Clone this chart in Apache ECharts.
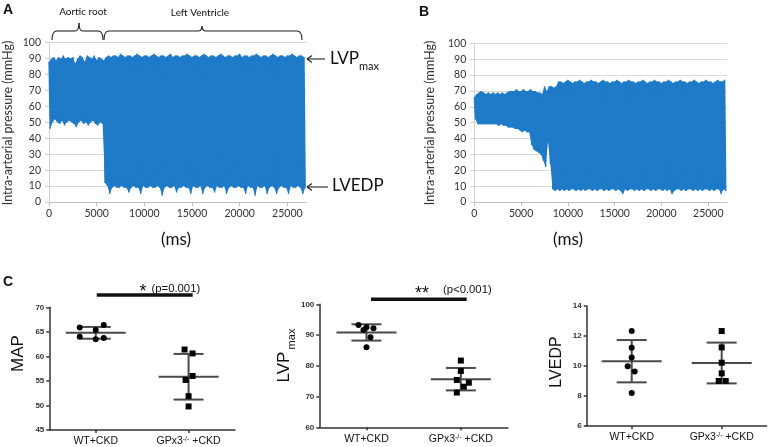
<!DOCTYPE html>
<html><head><meta charset="utf-8">
<script src="https://cdn.jsdelivr.net/npm/echarts@6/dist/echarts.min.js"></script>
<style>html,body{margin:0;padding:0;background:#fff}#c{width:768px;height:447px}</style>
</head><body><div id="c"></div>
<script>
// ---------- DATA ----------
// Pressure traces: per-sample beat peak (max) and trough (min), mmHg, one sample per sampleMs
const sampleMs = 250;
const maxA = [88,90,91,89,91,90,92,90,91,90,91,87,90,92,91,88,92,91,90,92,89,91,90,89,
 91,92,91,92,92,91,93,92,91,92,92,91,92,93,92,91,92,92,91,92,
 93,92,91,92,92,91,92,93,91,92,92,91,92,92,93,92,91,92,92,91,
 92,93,92,91,92,92,91,92,93,92,91,92,92,91,92,92,93,91,92,92,
 91,92,92,93,92,91,92,92,91,92,93,92,91,92,92,91,92,92,93,92,
 91,92,92,91];
const minA = [46,50,52,50,49,51,48,50,51,50,49,47,50,51,49,50,48,50,51,49,48,50,49,12,
 10,5,9,10,9,9,10,9,9,6,9,10,9,9,5,10,9,9,10,9,
 9,10,9,4,9,10,9,9,10,6,9,9,10,9,9,5,10,9,9,10,
 5,9,10,9,9,6,10,9,9,10,5,9,10,9,9,10,9,9,5,10,
 9,9,4,10,9,9,10,5,9,10,9,5,9,10,9,9,5,10,9,9,
 10,9,5,9];
const maxB = [66,68,69,70,69,68,69,68,69,68,69,68,69,68,69,70,70,70,71,70,70,71,70,70,71,70,70,69,69,68,73,70,73,73,72,73,
 76,76,75,76,77,76,75,76,76,77,76,75,76,76,77,76,76,75,76,77,
 76,76,75,76,76,77,76,75,76,76,77,76,76,75,76,76,77,76,75,76,
 76,77,76,76,75,76,76,77,76,75,76,76,77,76,76,75,76,76,77,76,
 75,76,76,77,76,76,75,76,77,76,76,77];
const minB = [52,49,49,49,49,49,49,49,49,49,48,49,48,48,47,47,47,46,46,45,44,45,44,44,36,33,32,31,30,26,22,38,24,8,7,8,
 7,8,7,8,7,8,8,7,8,7,8,7,8,8,7,8,7,8,8,7,
 8,7,8,8,7,8,7,5,8,7,8,8,7,8,7,8,7,8,8,7,
 8,7,8,8,7,8,7,8,5,7,8,8,7,8,7,8,8,7,8,7,
 8,7,8,8,7,8,7,8,8,5,8,7];

// Dot plots (panel C)
const groups = ['WT+CKD', 'GPx3-/- +CKD'];
const mapWT = [65.9, 65.4, 66.4, 64.0, 63.5, 63.75];
const mapKO = [61.4, 60.6, 56.0, 55.2, 51.9, 49.8];
const mapMean = [64.8, 55.85];
const mapSD = [1.2, 4.65];
const lvpWT = [93.3, 91.65, 92.5, 92.2, 89.3, 86.0];
const lvpKO = [81.7, 78.3, 75.4, 74.5, 73.2, 71.3];
const lvpMean = [90.85, 75.65];
const lvpSD = [2.65, 3.65];
const edpWT = [12.33, 11.22, 10.56, 9.98, 9.64, 8.2];
const edpKO = [12.33, 11.24, 10.22, 9.51, 9.0, 9.0];
const edpMean = [10.32, 10.2];
const edpSD = [1.41, 1.36];

// ---------- STYLE (horizontal jitter of dots, px) ----------
const jitMapWT = [-16, 0, 8, -16, 0, 8];
const jitMapKO = [-4, 4, 4, -3, 0, 0];
const jitLvpWT = [-8, -3, 0, 7, 4, 0];
const jitLvpKO = [0, 0, -4, 8, 3, -4];
const jitEdpWT = [0, 0, 0, -4, 3, 0];
const jitEdpKO = [0, 0, 0, 0, -3, 4];

const TRACE = '#1f7bc8';
const XL = 'Lato, "Open Sans", sans-serif';
const AR = '"Liberation Sans", Arial, sans-serif';

function zigzag(mx, mn) {
  const d = [];
  for (let i = 0; i < mx.length; i++) {
    d.push([i * sampleMs, mx[i]]);
    d.push([i * sampleMs + sampleMs / 2, mn[i]]);
  }
  return d;
}
function traceSeries(gi, mx, mn) {
  return [
    { // filled envelope between beat troughs and peaks
      type: 'custom', xAxisIndex: gi, yAxisIndex: gi, silent: true, z: 1,
      data: mx.map((v, i) => [i * sampleMs, v, mn[i]]),
      renderItem: (params, api) => {
        if (params.dataIndex !== 0) return null;
        const pts = [];
        for (let i = 0; i < mx.length; i++) pts.push(api.coord([i * sampleMs, mx[i]]));
        for (let i = mn.length - 1; i >= 0; i--) pts.push(api.coord([i * sampleMs + sampleMs / 2, mn[i]]));
        return { type: 'polygon', shape: { points: pts }, style: { fill: TRACE } };
      }
    },
    { type: 'line', xAxisIndex: gi, yAxisIndex: gi, symbol: 'none', silent: true, z: 2,
      data: zigzag(mx, mn), lineStyle: { color: TRACE, width: 1.3 } }
  ];
}

function excelX(gi) {
  return {
    type: 'value', gridIndex: gi, min: 0, max: 27000, interval: 5000,
    axisLine: { show: true, lineStyle: { color: '#bfbfbf', width: 1 } },
    axisTick: { show: true, length: 4, lineStyle: { color: '#bfbfbf' } },
    axisLabel: { fontFamily: XL, fontSize: 10.5, color: '#333', margin: 6, showMaxLabel: false, formatter: v => String(v) },
    splitLine: { show: false }
  };
}
function excelY(gi) {
  return {
    type: 'value', gridIndex: gi, min: 0, max: 100, interval: 10,
    axisLine: { show: true, lineStyle: { color: '#d0d0d0', width: 1 } },
    axisTick: { show: true, length: 4, lineStyle: { color: '#d0d0d0' } },
    axisLabel: { fontFamily: XL, fontSize: 10.5, color: '#333', margin: 8 },
    splitLine: { show: true, lineStyle: { color: '#d9d9d9', width: 1 } }
  };
}
function gpX(gi) {
  return {
    type: 'category', gridIndex: gi, data: groups, boundaryGap: true,
    axisLine: { show: true, lineStyle: { color: '#333', width: 1.5 } },
    axisTick: { show: true, alignWithLabel: true, interval: 0, length: 3, lineStyle: { color: '#333', width: 1.5 } },
    axisLabel: {
      interval: 0, hideOverlap: false,
      margin: 6, color: '#111', fontFamily: AR, fontSize: 10.5,
      formatter: v => v.indexOf('GPx3') === 0 ? '{n|GPx3}{s|-/-}{n| +CKD}' : '{n|' + v + '}',
      rich: { n: { fontFamily: AR, fontSize: 10.5, color: '#111' }, s: { fontFamily: AR, fontSize: 7, color: '#111', verticalAlign: 'top' } }
    },
    splitLine: { show: false }
  };
}
function gpY(gi, min, max, interval) {
  return {
    type: 'value', gridIndex: gi, min, max, interval,
    axisLine: { show: true, lineStyle: { color: '#333', width: 1.5 } },
    axisTick: { show: true, length: 3, lineStyle: { color: '#333', width: 1.5 } },
    axisLabel: { fontFamily: AR, fontSize: 8, fontWeight: 'bold', color: '#333', margin: 5 },
    splitLine: { show: false }
  };
}
function errSeries(gi, mean, sd) {
  return {
    type: 'custom', xAxisIndex: gi, yAxisIndex: gi, z: 2, silent: true,
    data: mean.map((m, i) => [i, m, sd[i]]),
    renderItem: (params, api) => {
      const i = api.value(0), m = api.value(1), s = api.value(2);
      const c = api.coord([i, m]), hi = api.coord([i, m + s]), lo = api.coord([i, m - s]);
      const st = { stroke: '#4a4a4a', lineWidth: 2 };
      return { type: 'group', children: [
        { type: 'line', shape: { x1: c[0] - 30, y1: c[1], x2: c[0] + 30, y2: c[1] }, style: st },
        { type: 'line', shape: { x1: c[0] - 15, y1: hi[1], x2: c[0] + 15, y2: hi[1] }, style: st },
        { type: 'line', shape: { x1: c[0] - 15, y1: lo[1], x2: c[0] + 15, y2: lo[1] }, style: st },
        { type: 'line', shape: { x1: c[0], y1: hi[1], x2: c[0], y2: lo[1] }, style: st }
      ] };
    }
  };
}
function dotSeries(gi, cat, vals, jit, symbol) {
  return {
    type: 'scatter', xAxisIndex: gi, yAxisIndex: gi, z: 3, silent: true,
    symbol, symbolSize: 6,
    itemStyle: { color: '#000', opacity: 1 },
    data: vals.map((v, i) => ({ value: [cat, v], symbolOffset: [jit[i], 0] }))
  };
}

function txt(x, y, text, size, opts) {
  opts = opts || {};
  return {
    type: 'text', x, y, rotation: opts.rot || 0, silent: true,
    style: {
      text, fill: opts.color || '#111', fontSize: size, fontFamily: opts.family || XL,
      fontWeight: opts.weight || 'normal',
      align: opts.align || 'center', textAlign: opts.align || 'center',
      verticalAlign: opts.va || 'middle', textVerticalAlign: opts.va || 'middle'
    }
  };
}
const LS = { stroke: '#222', lineWidth: 1.1, fill: null };
function ln(x1, y1, x2, y2) {
  return { type: 'line', silent: true, shape: { x1, y1, x2, y2 }, style: LS };
}
function qb(x1, y1, cx, cy, x2, y2) {
  return { type: 'bezierCurve', silent: true, shape: { x1, y1, x2, y2, cpx1: cx, cpy1: cy }, style: LS };
}
function brace(xl, xm, xr, yb, yh, yp) {
  return [
    qb(xl, yb, xl, yh, xl + 5, yh), ln(xl + 5, yh, xm - 4, yh),
    qb(xm - 4, yh, xm, yh, xm, yp), qb(xm, yp, xm, yh, xm + 4, yh),
    ln(xm + 4, yh, xr - 5, yh), qb(xr - 5, yh, xr, yh, xr, yb)
  ];
}
function arrow(x1, x2, y) {
  return [ln(x1, y, x2, y), ln(x2, y, x2 + 5, y - 3.5), ln(x2, y, x2 + 5, y + 3.5)];
}

const chart = echarts.init(document.getElementById('c'), null, { renderer: 'canvas' });
const R = Math.PI / 2;
chart.setOption({
  animation: false,
  backgroundColor: '#fff',
  grid: [
    { left: 49, top: 42.7, width: 257.4, height: 159.3, outerBoundsMode: 'none' },
    { left: 474.3, top: 43.3, width: 252.7, height: 158.7, outerBoundsMode: 'none' },
    { left: 49.3, top: 307.3, width: 185.7, height: 122.7, outerBoundsMode: 'none' },
    { left: 319.3, top: 304.3, width: 188.7, height: 123, outerBoundsMode: 'none' },
    { left: 586.7, top: 306, width: 180, height: 120, outerBoundsMode: 'none' }
  ],
  xAxis: [excelX(0), excelX(1), gpX(2), gpX(3), gpX(4)],
  yAxis: [excelY(0), excelY(1), gpY(2, 45, 70, 5), gpY(3, 60, 100, 10), gpY(4, 6, 14, 2)],
  series: [
    ...traceSeries(0, maxA, minA),
    ...traceSeries(1, maxB, minB),
    errSeries(2, mapMean, mapSD),
    dotSeries(2, 0, mapWT, jitMapWT, 'circle'),
    dotSeries(2, 1, mapKO, jitMapKO, 'rect'),
    errSeries(3, lvpMean, lvpSD),
    dotSeries(3, 0, lvpWT, jitLvpWT, 'circle'),
    dotSeries(3, 1, lvpKO, jitLvpKO, 'rect'),
    errSeries(4, edpMean, edpSD),
    dotSeries(4, 0, edpWT, jitEdpWT, 'circle'),
    dotSeries(4, 1, edpKO, jitEdpKO, 'rect')
  ],
  graphic: [
    txt(3, 3, 'A', 14, { family: AR, weight: 'bold', align: 'left', va: 'top' }),
    txt(419, 5, 'B', 14, { family: AR, weight: 'bold', align: 'left', va: 'top' }),
    txt(3, 275, 'C', 14, { family: AR, weight: 'bold', align: 'left', va: 'top' }),
    txt(83, 12, 'Aortic root', 10, {}),
    txt(200, 13, 'Left Ventricle', 10, {}),
    ...brace(52, 79, 103, 40, 31, 23),
    ...brace(104, 202, 302, 40, 31, 26),
    ...arrow(325, 307, 59),
    ...arrow(328, 307, 187),
    txt(330, 59, 'LVP', 17, { align: 'left' }),
    txt(359, 66, 'max', 11, { align: 'left' }),
    txt(332, 186, 'LVEDP', 17, { align: 'left' }),
    txt(176, 240, '(ms)', 17, {}),
    txt(568, 240, '(ms)', 17, {}),
    txt(7.5, 123, 'Intra-arterial pressure (mmHg)', 12.5, { rot: R, color: '#333' }),
    txt(429.5, 123, 'Intra-arterial pressure (mmHg)', 12.5, { rot: R, color: '#333' }),
    txt(18.5, 353.5, 'MAP', 17, { family: AR, rot: R }),
    txt(284.5, 367, 'LVP', 17, { family: AR, rot: R }),
    txt(292, 339, 'max', 11, { family: AR, rot: R }),
    txt(556.7, 362, 'LVEDP', 16, { family: AR, rot: R }),
    { type: 'rect', silent: true, shape: { x: 96.7, y: 293.3, width: 96, height: 3.5 }, style: { fill: '#111' } },
    { type: 'rect', silent: true, shape: { x: 371, y: 297.6, width: 95.7, height: 3.5 }, style: { fill: '#111' } },
    txt(143, 292.5, '*', 18, { family: AR }),
    txt(151.5, 289, '(p=0.001)', 11.3, { family: AR, align: 'left' }),
    txt(422, 294, '**', 18, { family: AR }),
    txt(443, 290, '(p<0.001)', 11.3, { family: AR, align: 'left' })
  ]
});
</script>
</body></html>
